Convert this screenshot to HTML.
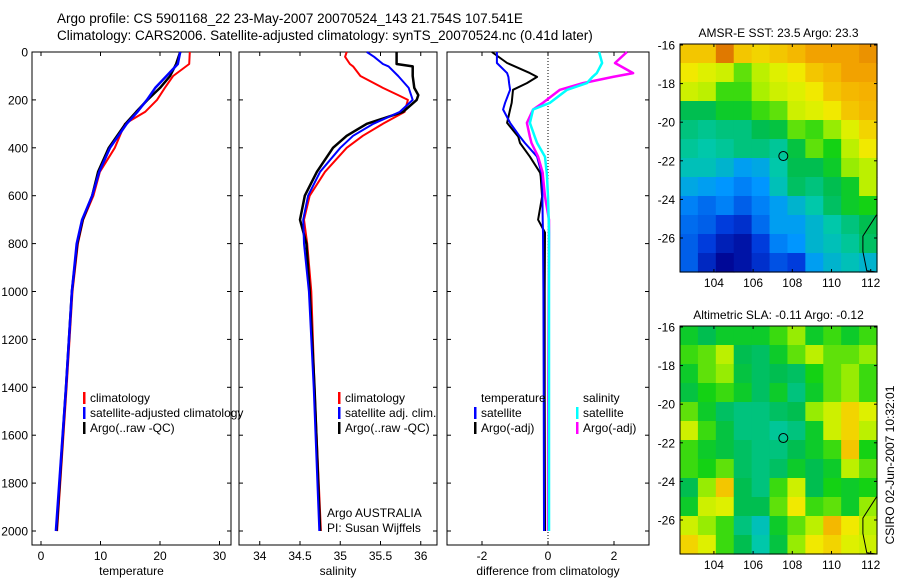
<!DOCTYPE html>
<html><head><meta charset="utf-8">
<style>
html,body{margin:0;padding:0;background:#fff;}
svg{display:block;font-family:"Liberation Sans",sans-serif;}
text{fill:#000;}
</style></head>
<body>
<svg id="chart" width="900" height="580" viewBox="0 0 900 580" xmlns="http://www.w3.org/2000/svg">
<text x="57" y="23" font-size="13.5" text-anchor="start">Argo profile: CS 5901168_22 23-May-2007 20070524_143 21.754S 107.541E</text>
<text x="57" y="40" font-size="13.5" text-anchor="start">Climatology: CARS2006. Satellite-adjusted climatology: synTS_20070524.nc (0.41d later)</text>
<text transform="translate(894,465) rotate(-90)" font-size="12" text-anchor="middle">CSIRO 02-Jun-2007 10:32:01</text>
</svg>
<script>
// ---------- DATA ----------
const tDepth = [0,50,100,150,200,250,300,400,500,600,700,800,1000,1400,2000];
const tClim  = [25.0,24.9,22.2,20.8,19.5,17.5,14.1,12.4,9.9,8.8,7.1,6.2,5.3,4.3,2.7];
const tSat   = [23.4,23.0,21.1,19.2,17.8,16.2,14.4,11.6,9.8,8.6,6.9,6.0,5.2,4.2,2.5];
const tArgo  = [23.4,22.7,21.7,20.0,17.9,16.0,14.2,11.4,9.6,8.6,7.0,6.1,5.2,4.2,2.6];

const sDepth = [0,20,50,60,100,150,180,200,250,300,350,400,500,600,700,800,1000,1400,2000];
const sClim  = [35.08,35.06,35.12,35.16,35.25,35.53,35.72,35.84,35.80,35.53,35.28,35.08,34.81,34.62,34.55,34.59,34.64,34.68,34.76];
const sSat   = [35.33,35.42,35.53,35.60,35.72,35.85,35.88,35.90,35.74,35.41,35.16,35.00,34.75,34.60,34.54,34.55,34.61,34.67,34.74];
const sArgo  = [35.70,35.70,35.70,35.90,35.90,35.92,35.97,35.95,35.78,35.33,35.08,34.91,34.71,34.56,34.50,34.58,34.62,34.68,34.75];

const dDepth   = [0,46,88,104,130,158,212,240,296,354,380,437,504,520,604,700,754,1000,1400,2000];
const dTempSat = [-1.55,-1.55,-1.24,-1.20,-1.18,-1.15,-1.30,-1.36,-1.15,-0.85,-0.70,-0.33,-0.20,-0.18,-0.17,-0.16,-0.15,-0.14,-0.13,-0.12];
const dTempArg = [-1.70,-1.24,-0.55,-0.33,-0.64,-1.06,-1.10,-1.15,-1.24,-0.90,-0.85,-0.55,-0.24,-0.22,-0.18,-0.30,-0.09,-0.10,-0.10,-0.09];
const dSalSat  = [1.55,1.64,1.48,1.35,1.18,0.58,0.06,-0.45,-0.55,-0.40,-0.33,-0.09,-0.04,-0.03,0.00,0.02,0.03,0.03,0.03,0.03];
const dSalArg  = [2.39,2.03,2.58,1.97,1.06,0.36,-0.15,-0.45,-0.64,-0.55,-0.50,-0.30,-0.16,-0.15,-0.09,0.03,0.03,0.02,0.01,0.00];

const depthTicks = [0,200,400,600,800,1000,1200,1400,1600,1800,2000];
const tTicks = [0,10,20,30];
const sTicks = [34,34.5,35,35.5,36];
const sTickLabels = ["34","34.5","35","35.5","36"];
const dTicks = [-2,0,2];
const lonTicks = [104,106,108,110,112];
const latTicks = [16,18,20,22,24,26];

const sstGrid = [
[.80,.80,.90,.80,.78,.80,.82,.85,.85,.85,.87],
[.75,.72,.70,.62,.68,.72,.75,.80,.82,.85,.85],
[.70,.68,.60,.60,.66,.70,.72,.75,.80,.82,.83],
[.50,.50,.55,.55,.60,.62,.70,.72,.75,.80,.82],
[.45,.43,.45,.45,.50,.52,.62,.60,.65,.72,.78],
[.42,.40,.42,.45,.45,.42,.52,.62,.58,.68,.75],
[.38,.38,.35,.30,.32,.40,.50,.50,.55,.65,.68],
[.32,.30,.28,.25,.28,.38,.48,.45,.50,.55,.68],
[.25,.22,.25,.20,.25,.30,.35,.40,.48,.55,.58],
[.22,.20,.15,.12,.22,.30,.30,.35,.40,.45,.50],
[.20,.15,.08,.05,.15,.25,.28,.35,.38,.42,.48],
[.20,.10,.02,.05,.12,.18,.15,.30,.35,.38,.35]];
const slaGrid = [
[.55,.50,.55,.55,.55,.60,.65,.55,.60,.55,.60],
[.60,.62,.68,.50,.48,.55,.62,.68,.62,.62,.65],
[.55,.62,.65,.52,.48,.50,.48,.58,.62,.65,.60],
[.52,.58,.60,.55,.48,.55,.45,.55,.62,.65,.60],
[.62,.55,.48,.45,.45,.48,.50,.65,.70,.78,.72],
[.70,.60,.52,.45,.45,.42,.45,.55,.70,.78,.68],
[.60,.55,.52,.48,.45,.45,.50,.55,.60,.80,.58],
[.60,.58,.62,.48,.45,.48,.55,.50,.55,.68,.62],
[.50,.65,.80,.50,.45,.60,.70,.50,.58,.55,.58],
[.55,.70,.72,.50,.50,.62,.75,.60,.62,.55,.65],
[.70,.65,.60,.45,.38,.55,.62,.68,.82,.75,.68],
[.78,.72,.60,.50,.40,.52,.65,.75,.78,.72,.70]];
const coastLon = [112.3,111.6,111.6,111.8,112.3];
const coastLat = [24.8,25.9,26.7,27.7,28.6];
const argoLon = 107.541, argoLat = 21.754;

// ---------- HELPERS ----------
const svg = document.getElementById('chart');
const NS = 'http://www.w3.org/2000/svg';
function mk(tag, attrs, parent){ const e=document.createElementNS(NS,tag); for(const k in attrs) e.setAttribute(k,attrs[k]); (parent||svg).appendChild(e); return e; }
function txt(x,y,s,size,anchor,parent){ const t=mk('text',{x:x,y:y,'font-size':size,'text-anchor':anchor||'start'},parent); t.textContent=s; return t; }

const yTop=52, yBot=545;
const yD = d => 52 + d*0.2395;

function panel(name, x0, x1, xf, ticks, labels, xlabel, showY){
  const g = mk('g',{});
  
  
  const r = mk('rect',{x:x0,y:yTop,width:x1-x0,height:yBot-yTop,fill:'none',stroke:'#000','stroke-width':1},g);
  
  
  depthTicks.forEach(d=>{
    const y=yD(d);
    mk('line',{x1:x0,x2:x0+4,y1:y,y2:y,stroke:'#000'},g);
    mk('line',{x1:x1-4,x2:x1,y1:y,y2:y,stroke:'#000'},g);
    if(showY){ const t=txt(x0-4,y+4.5,String(d),12,'end',g);
      
       }
  });
  ticks.forEach((v,i)=>{
    const x=xf(v);
    mk('line',{x1:x,x2:x,y1:yTop,y2:yTop+4,stroke:'#000'},g);
    mk('line',{x1:x,x2:x,y1:yBot-4,y2:yBot,stroke:'#000'},g);
    const t=txt(x,560,labels[i],12,'middle',g);
    
    
  });
  const xl = txt((x0+x1)/2,575,xlabel,12,'middle',g);
  
  
  return g;
}
function series(g, depths, vals, xf, color, w, name){
  const pts = depths.map((d,i)=>xf(vals[i]).toFixed(1)+','+yD(d).toFixed(1)).join(' ');
  const p = mk('polyline',{points:pts,fill:'none',stroke:color,'stroke-width':w,'stroke-linejoin':'round'},g);
  
  
}
function legend(g, x, y, color, label){
  mk('rect',{x:x,y:y-10,width:2.5,height:12,fill:color},g);
  const t = txt(x+7,y,label,12,'start',g);
  
  
}

// ---------- PANEL 1 TEMPERATURE ----------
const xT = v => 41 + v*5.95;
const g1 = panel('temperature-panel',32,231,xT,tTicks,tTicks.map(String),'temperature',true);
series(g1,tDepth,tClim,xT,'#ff0000',2,'temp-climatology-line');
series(g1,tDepth,tArgo,xT,'#000000',2.5,'temp-argo-line');
series(g1,tDepth,tSat,xT,'#0000ff',2.5,'temp-satellite-line');
legend(g1,83,402,'#ff0000','climatology');
legend(g1,83,417,'#0000ff','satellite-adjusted climatology');
legend(g1,83,432,'#000000','Argo(..raw -QC)');

// ---------- PANEL 2 SALINITY ----------
const xS = v => 300 + (v-34.5)*80.5;
const g2 = panel('salinity-panel',239,437,xS,sTicks,sTickLabels,'salinity',false);
series(g2,sDepth,sClim,xS,'#ff0000',2,'sal-climatology-line');
series(g2,sDepth,sArgo,xS,'#000000',2.5,'sal-argo-line');
series(g2,sDepth,sSat,xS,'#0000ff',2,'sal-satellite-line');
legend(g2,338,402,'#ff0000','climatology');
legend(g2,338,417,'#0000ff','satellite adj. clim.');
legend(g2,338,432,'#000000','Argo(..raw -QC)');
const a1 = txt(327,517,'Argo AUSTRALIA',12,'start',g2);


const a2 = txt(327,532,'PI: Susan Wijffels',12,'start',g2);



// ---------- PANEL 3 DIFFERENCE ----------
const xDf = v => 548 + v*33;
const g3 = panel('difference-panel',447,649,xDf,dTicks,dTicks.map(String),'difference from climatology',false);
const zl = mk('line',{x1:xDf(0),x2:xDf(0),y1:yTop,y2:yBot,stroke:'#000','stroke-dasharray':'1,2'},g3);


series(g3,dDepth,dTempArg,xDf,'#000000',2,'diff-temp-argo-line');
series(g3,dDepth,dTempSat,xDf,'#0000ff',2,'diff-temp-satellite-line');
series(g3,dDepth,dSalArg,xDf,'#ff00ff',2.5,'diff-sal-argo-line');
series(g3,dDepth,dSalSat,xDf,'#00ffff',2.5,'diff-sal-satellite-line');
const lt = txt(481,402,'temperature',12,'start',g3);


const ls = txt(583,402,'salinity',12,'start',g3);


legend(g3,474,417,'#0000ff','satellite');
legend(g3,474,432,'#000000','Argo(-adj)');
legend(g3,576,417,'#00ffff','satellite');
legend(g3,576,432,'#ff00ff','Argo(-adj)');

// ---------- MAPS ----------
const cmapStops = [[0,[0,0,140]],[0.15,[0,60,220]],[0.28,[0,150,255]],[0.4,[0,200,170]],[0.5,[0,190,80]],[0.58,[20,210,20]],[0.66,[170,240,0]],[0.74,[240,240,0]],[0.84,[245,170,0]],[1,[190,40,0]]];
function cmap(v){
  for(let i=1;i<cmapStops.length;i++){
    if(v<=cmapStops[i][0]){ const a=cmapStops[i-1],b=cmapStops[i],t=(v-a[0])/(b[0]-a[0]);
      const c=a[1].map((x,k)=>Math.round(x+(b[1][k]-x)*t)); return 'rgb('+c.join(',')+')'; }
  }
  return 'rgb(190,40,0)';
}
function map(name, top, title, grid){
  const x0=680,x1=877,y0=top,y1=top+228;
  const lonF = l => 680 + (l-102.27)*19.6;
  const latF = l => top + 1 + (l-16)*19.3;
  const g = mk('g',{});
  
  
  const rows=grid.length, cols=grid[0].length;
  const cw=(x1-x0)/cols, ch=(y1-y0)/rows;
  grid.forEach((row,r)=>row.forEach((v,c)=>{
    const cell = mk('rect',{x:(x0+c*cw).toFixed(2),y:(y0+r*ch).toFixed(2),width:(cw+0.6).toFixed(2),height:(ch+0.6).toFixed(2),fill:cmap(v)},g);
    
    
  }));
  const cpts = coastLon.map((l,i)=>lonF(l).toFixed(1)+','+Math.min(y1,latF(coastLat[i])).toFixed(1)).join(' ');
  const cl = mk('polyline',{points:cpts,fill:'none',stroke:'#000','stroke-width':1},g);
  
  
  const circ = mk('circle',{cx:lonF(argoLon),cy:latF(argoLat),r:4.5,fill:'none',stroke:'#000','stroke-width':1},g);
  
  
  mk('rect',{x:x0,y:y0,width:x1-x0,height:y1-y0,fill:'none',stroke:'#000'},g);
  lonTicks.forEach(l=>{ const x=lonF(l);
    mk('line',{x1:x,x2:x,y1:y0,y2:y0+3,stroke:'#000'},g);
    mk('line',{x1:x,x2:x,y1:y1-3,y2:y1,stroke:'#000'},g);
    const t=txt(x,y1+15,String(l),12,'middle',g);
    
     });
  latTicks.forEach(l=>{ const y=latF(l);
    mk('line',{x1:x0,x2:x0+3,y1:y,y2:y,stroke:'#000'},g);
    mk('line',{x1:x1-3,x2:x1,y1:y,y2:y,stroke:'#000'},g);
    const t=txt(x0-5,y+4.5,'-'+l,12,'end',g);
    
     });
  const tt = txt((x0+x1)/2,top-7,title,12,'middle',g);
  
  
}
map('sst-map',44,'AMSR-E SST: 23.5 Argo: 23.3',sstGrid);
map('sla-map',326,'Altimetric SLA: -0.11 Argo: -0.12',slaGrid);
</script>
</body></html>
